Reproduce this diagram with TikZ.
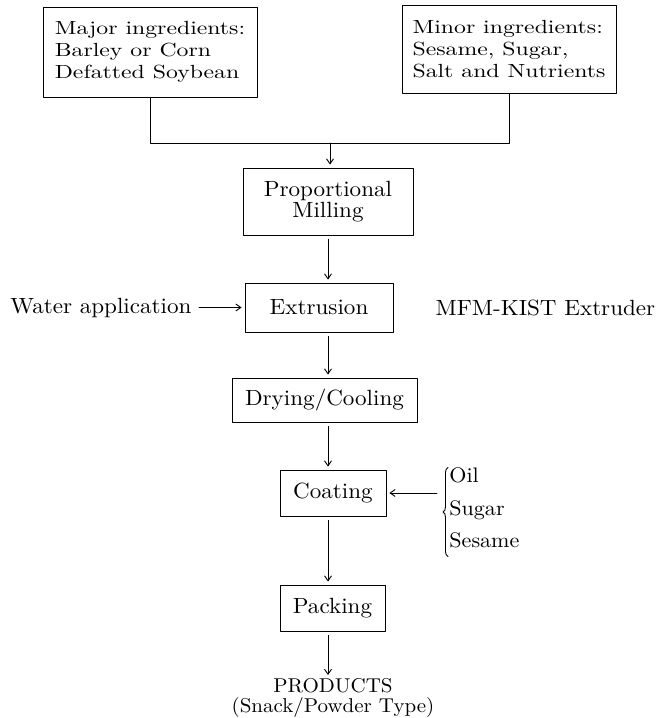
\documentclass[tikz,border=0pt]{standalone}
\usepackage{fontspec}
\setmainfont{lmroman10-regular.otf}[FakeStretch=1.05]
\newfontfamily\widefont{lmroman10-regular.otf}[FakeStretch=1.25]
\usetikzlibrary{arrows.meta,decorations.pathreplacing}
\begin{document}
\begin{tikzpicture}[x=1pt,y=-1pt,line width=0.9pt,line cap=round,line join=round,>={Straight Barb[length=5pt,width=7pt]},
  box/.style={draw,inner sep=0pt,align=center,font=\fontsize{22}{21}\selectfont},
  inbox/.style={draw,inner sep=0pt,align=left,font=\widefont\fontsize{19}{22}\selectfont},
  flow/.style={->,shorten <=4pt,shorten >=3pt},
  label/.style={inner sep=3pt,font=\fontsize{22}{21}\selectfont}]
\useasboundingbox (0,0) rectangle (663,718);
\node[inbox,minimum width=214pt,minimum height=90pt] (major) at (150,52) {Major ingredients:\\Barley or Corn\\Defatted Soybean};
\node[inbox,minimum width=214pt,minimum height=88pt] (minor) at (509,49) {Minor ingredients:\\Sesame, Sugar,\\Salt and Nutrients};
\coordinate (join) at (330,143);
\draw (major.south) -- (major.south |- join) -- (minor.south |- join) -- (minor.south);
\node[box,minimum width=170pt,minimum height=67pt] (mill) at (328,201.5) {Proportional\\Milling};
\node[box,minimum width=148pt,minimum height=49pt] (extr) at (319,307.5) {Extrusion};
\node[box,minimum width=185pt,minimum height=44pt] (dry) at (324.5,400) {Drying/Cooling};
\node[box,minimum width=106pt,minimum height=46pt] (coat) at (333,493) {Coating};
\node[box,minimum width=105pt,minimum height=46pt] (pack) at (332.5,608) {Packing};
\node[inner sep=0pt,align=center,font=\fontsize{20}{20}\selectfont] (prod) at (333,698) {PRODUCTS\\(Snack/Powder Type)};
\node[label] (water) at (101,307.5) {Water application};
\node[label] (mfm) at (545.5,307.5) {MFM-KIST Extruder};
\node[inner sep=0pt,align=left,anchor=west,font=\fontsize{21}{32.5}\selectfont] (addit) at (449,508) {Oil\\Sugar\\Sesame};
\draw[decorate,decoration={brace,amplitude=5pt}] ([xshift=-1pt,yshift=-8pt]addit.south west) -- ([xshift=-1pt]addit.north west);
\coordinate (bracetip) at (437,493);
\draw[->,shorten >=3pt] (join) -- (join |- mill.north);
\draw[flow] (mill) -- (mill |- extr.north);
\draw[flow] (mill |- extr.south) -- (mill |- dry.north);
\draw[flow] (mill |- dry.south) -- (mill |- coat.north);
\draw[flow] (mill |- coat.south) -- (mill |- pack.north);
\draw[flow] (mill |- pack.south) -- (mill |- prod.north);
\draw[flow] (water) -- (extr);
\draw[->,shorten >=3pt] (bracetip) -- (bracetip -| coat.east);
\end{tikzpicture}
\end{document}
